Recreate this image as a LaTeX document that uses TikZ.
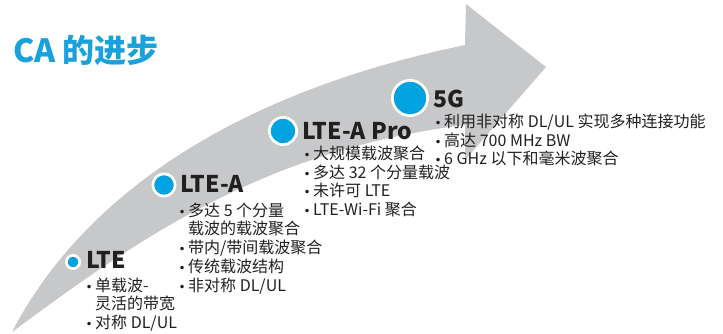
\documentclass[tikz,border=0pt]{standalone}
\usepackage{fontspec}
\setmainfont{Noto Sans CJK SC}
\newfontfamily\symfont{DejaVu Sans}
\definecolor{arrowgrey}{HTML}{C7C8CA}
\definecolor{cablue}{HTML}{00A3E0}
\definecolor{titleblue}{HTML}{1AA0DA}
\definecolor{txt}{HTML}{231F20}
\newcommand{\bul}{\makebox[8pt][l]{\kern-1.5pt{\symfont\fontsize{12}{14}\selectfont •}}}
\tikzset{
  item/.style={anchor=base west, inner sep=0pt, text=txt, font=\fontsize{16}{19}\selectfont},
  head/.style={anchor=base west, inner sep=0pt, text=txt, font=\fontsize{23}{27}\selectfont\bfseries},
  dot/.style={circle, fill=cablue, draw=white, line width=2.7pt, inner sep=0pt}
}
\begin{document}
\begin{tikzpicture}[x=1pt,y=-1pt]
\useasboundingbox (0,0) rectangle (723,333);
% arrow
\fill[arrowgrey] (12,332) .. controls (70,220) and (200,100) .. (465,45)
  -- (466,4) -- (546,67) -- (465,160) -- (465,125)
  .. controls (260,150) and (130,245) .. (12,332) -- cycle;
% title
\node[anchor=base west, inner sep=0pt, text=titleblue, font=\fontsize{32}{36}\selectfont\bfseries] (title) at (13,62) {CA 的进步};
% dots
\node[dot, minimum size=13.3pt] (d1) at (73,262) {};
\node[dot, minimum size=22.3pt] (d2) at (164,185) {};
\node[dot, minimum size=27.3pt] (d3) at (283,131) {};
\node[dot, minimum size=35.3pt] (d4) at (410,98) {};
% headings
\node[head] (h1) at (86,268) {LTE};
\node[head] (h2) at (180,192) {LTE-A};
\node[head] (h3) at (302,139) {LTE-A Pro};
\node[head] (h4) at (433,107) {5G};
% LTE list
\node[item] (l1a) at (87,291) {\bul 单载波-};
\node[item] (l1b) at (95,309.5) {灵活的带宽};
\node[item] (l1c) at (87,328) {\bul 对称 DL/UL};
% LTE-A list
\node[item] (l2a) at (180,216) {\bul 多达 5 个分量};
\node[item] (l2b) at (188,234.5) {载波的载波聚合};
\node[item] (l2c) at (180,253) {\bul 带内/带间载波聚合};
\node[item] (l2d) at (180,272) {\bul 传统载波结构};
\node[item] (l2e) at (180,291) {\bul 非对称 DL/UL};
% LTE-A Pro list
\node[item] (l3a) at (305,159.5) {\bul 大规模载波聚合};
\node[item] (l3b) at (305,178) {\bul 多达 32 个分量载波};
\node[item] (l3c) at (305,196.5) {\bul 未许可 LTE};
\node[item] (l3d) at (305,215) {\bul LTE-Wi-Fi 聚合};
% 5G list
\node[item] (l4a) at (436,127.5) {\bul 利用非对称 DL/UL 实现多种连接功能};
\node[item] (l4b) at (436,146) {\bul 高达 700 MHz BW};
\node[item] (l4c) at (436,164.5) {\bul 6 GHz 以下和毫米波聚合};
\end{tikzpicture}
\end{document}
